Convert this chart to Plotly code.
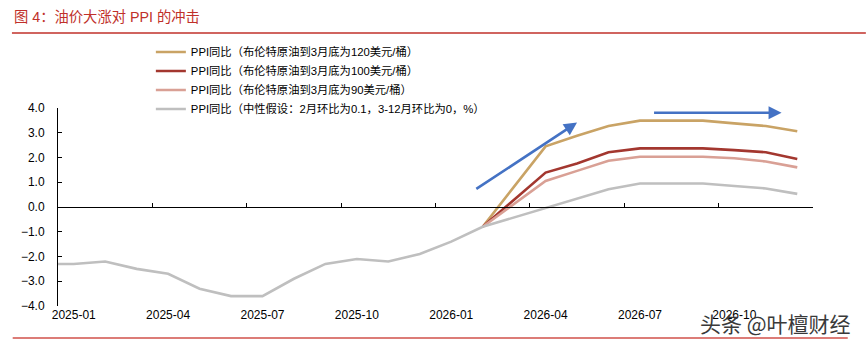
import plotly.graph_objects as go

# ---------------- data ----------------
months = ["2024-12",
          "2025-01", "2025-02", "2025-03", "2025-04", "2025-05", "2025-06",
          "2025-07", "2025-08", "2025-09", "2025-10", "2025-11", "2025-12",
          "2026-01", "2026-02", "2026-03", "2026-04", "2026-05", "2026-06",
          "2026-07", "2026-08", "2026-09", "2026-10", "2026-11", "2026-12"]

# neutral scenario incl. history (2024-12 .. 2026-12)
ppi_neutral = [-2.3,
               -2.3, -2.2, -2.5, -2.7, -3.3, -3.6,
               -3.6, -2.9, -2.3, -2.1, -2.2, -1.9,
               -1.4, -0.8, -0.42, -0.02, 0.35, 0.72,
               0.95, 0.95, 0.95, 0.85, 0.75, 0.53]

# oil scenarios, 2026-02 .. 2026-12
scen_months = months[14:]
ppi_120 = [-0.8, 0.85, 2.45, 2.88, 3.27, 3.49, 3.5, 3.49, 3.38, 3.27, 3.06]
ppi_100 = [-0.8, 0.3, 1.39, 1.76, 2.21, 2.37, 2.37, 2.37, 2.30, 2.21, 1.94]
ppi_90 = [-0.8, 0.13, 1.05, 1.46, 1.87, 2.03, 2.03, 2.03, 1.97, 1.84, 1.60]

names = ["PPI同比（布伦特原油到3月底为120美元/桶）",
         "PPI同比（布伦特原油到3月底为100美元/桶）",
         "PPI同比（布伦特原油到3月底为90美元/桶）",
         "PPI同比（中性假设：2月环比为0.1，3-12月环比为0，%）"]

tick_labels = ["2025-01", "2025-04", "2025-07", "2025-10",
               "2026-01", "2026-04", "2026-07", "2026-10"]

# arrows: (tail month, tail value, head month, head value) as fractional month positions
arrows = [(12.75, 0.69, 16.0, 3.41), (18.4, 3.81, 22.5, 3.81)]

title_text = "图 4：油价大涨对 PPI 的冲击"
watermark = "头条 @叶檀财经"

# ---------------- helpers ----------------
base = months.index("2025-01")
def pos(m):
    return months.index(m) - base

x_all = [pos(m) for m in months]
x_scen = [pos(m) for m in scen_months]
tickvals = [pos(m) for m in tick_labels]
boundaries = [i - 0.5 for i in range(0, len(months) - base + 1, 3)]

colors = ["#C9A365", "#A3372F", "#D9A095", "#BFBFBF"]
FONT = "Liberation Sans, Arial, Noto Sans CJK SC"

fig = go.Figure()
for name, ys, c in zip(names[:3], [ppi_120, ppi_100, ppi_90], colors[:3]):
    fig.add_trace(go.Scatter(x=x_scen, y=ys, mode="lines", name=name,
                             line=dict(color=c, width=2.6)))
fig.add_trace(go.Scatter(x=x_all, y=ppi_neutral, mode="lines", name=names[3],
                         line=dict(color=colors[3], width=2.6)))
# carrier for the zero-line axis
fig.add_trace(go.Scatter(x=x_all, y=ppi_neutral, mode="lines", xaxis="x2",
                         showlegend=False, hoverinfo="skip",
                         line=dict(color="rgba(0,0,0,0)", width=0)))

xr = [-0.5, len(months) - base - 0.5]

fig.update_layout(
    width=866, height=350,
    margin=dict(l=58, r=53, t=108, b=44),
    paper_bgcolor="white", plot_bgcolor="white",
    font=dict(family=FONT, size=12, color="black"),
    showlegend=True,
    legend=dict(x=0.123, y=1.356, xanchor="left", yanchor="top",
                bgcolor="rgba(0,0,0,0)", font=dict(size=11.3, family=FONT),
                itemwidth=30, tracegroupgap=0),
    xaxis=dict(range=xr, tickmode="array", tickvals=tickvals, ticktext=tick_labels,
               showline=False, ticks="", showgrid=False, zeroline=False,
               tickfont=dict(size=12)),
    xaxis2=dict(range=xr, overlaying="x", anchor="free", position=0.5, side="bottom",
                tickmode="array", tickvals=boundaries, showticklabels=False,
                ticks="inside", ticklen=4, tickcolor="black", tickwidth=1,
                showline=True, linecolor="black", linewidth=1,
                showgrid=False, zeroline=False),
    yaxis=dict(range=[-4, 4], dtick=1, tickformat=".1f", showgrid=False,
               zeroline=False, showline=True, linecolor="black", linewidth=1,
               ticks="inside", ticklen=4, tickcolor="black",
               tickfont=dict(size=12), ticklabelstandoff=10),
)

for x0, y0, x1, y1 in arrows:
    fig.add_annotation(x=x1, y=y1, ax=x0, ay=y0, xref="x", yref="y",
                       axref="x", ayref="y", text="", showarrow=True,
                       arrowhead=2, arrowsize=1, arrowwidth=2.6,
                       arrowcolor="#4472C4")

fig.add_annotation(x=-0.061, y=1.46, xref="paper", yref="paper", text=title_text,
                   showarrow=False, xanchor="left", yanchor="middle",
                   font=dict(size=14.3, color="#C0302A", family=FONT))
fig.add_annotation(x=0.95, y=-0.085, xref="paper", yref="paper", text=watermark,
                   showarrow=False, xanchor="center", yanchor="middle",
                   font=dict(size=21, color="#3a3a3a", family="Noto Sans CJK SC"))

fig.add_shape(type="line", xref="paper", yref="paper", x0=-0.061, x1=1.07,
              y0=1.379, y1=1.379, line=dict(color="#C0302A", width=1.5))
fig.add_shape(type="line", xref="paper", yref="paper", x0=-0.06, x1=1.046,
              y0=-0.162, y1=-0.162, line=dict(color="#D0504A", width=1.5))

fig.write_html("out.html")
